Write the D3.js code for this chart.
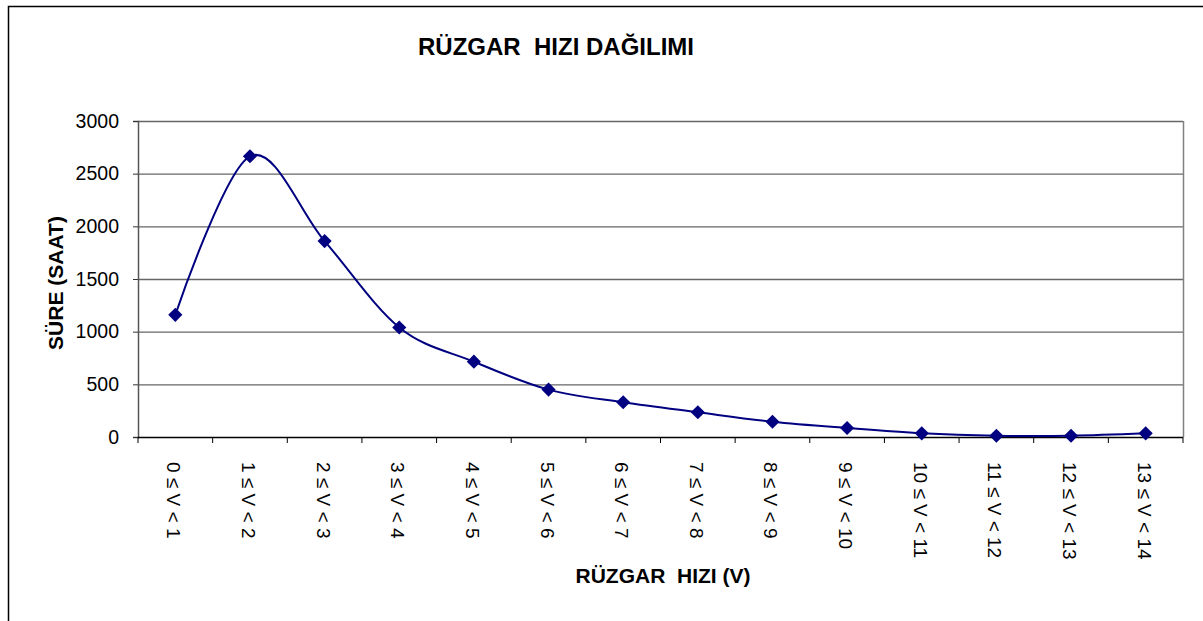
<!DOCTYPE html>
<html>
<head>
<meta charset="utf-8">
<script src="https://cdn.jsdelivr.net/npm/d3@7"></script>
<style>
  body { margin: 0; background: #fff; }
  text { font-family: Arial, "Liberation Sans", sans-serif; }
</style>
</head>
<body>
<div id="chart"></div>
<script>
// wind speed classes and hours
const categories = ["0 ≤ V < 1", "1 ≤ V < 2", "2 ≤ V < 3", "3 ≤ V < 4", "4 ≤ V < 5",
  "5 ≤ V < 6", "6 ≤ V < 7", "7 ≤ V < 8", "8 ≤ V < 9", "9 ≤ V < 10",
  "10 ≤ V < 11", "11 ≤ V < 12", "12 ≤ V < 13", "13 ≤ V < 14"];
const hours = [1160, 2665, 1860, 1040, 715, 450, 330, 235, 145, 85, 35, 12, 12, 35];
const yTicks = [0, 500, 1000, 1500, 2000, 2500, 3000];

const W = 1203, H = 621;
const margin = {top: 121, right: 20, bottom: 184, left: 138};
const width = W - margin.left - margin.right,
      height = H - margin.top - margin.bottom;

const svg = d3.select("#chart").append("svg")
  .attr("width", W).attr("height", H);

// outer frame
svg.append("rect")
  .attr("x", 8.5).attr("y", 6.5)
  .attr("width", W + 10).attr("height", H + 10)
  .attr("fill", "none").attr("stroke", "#000").attr("stroke-width", 1.5);

const g = svg.append("g")
  .attr("transform", "translate(" + margin.left + "," + margin.top + ")");

const x = d3.scaleBand().domain(categories).range([0, width]);
const y = d3.scaleLinear().domain([0, 3000]).range([height, 0]);

// gridlines
g.append("g")
  .selectAll("line")
  .data(yTicks.filter(d => d > 0))
  .enter().append("line")
  .attr("x1", 0).attr("x2", width)
  .attr("y1", d => y(d) + 0.5).attr("y2", d => y(d) + 0.5)
  .attr("stroke", "#666").attr("stroke-width", 1.3);

// plot border right
g.append("line")
  .attr("x1", width + 0.5).attr("x2", width + 0.5)
  .attr("y1", 0).attr("y2", height)
  .attr("stroke", "#808080").attr("stroke-width", 1.5);

// y axis
const yAxis = g.append("g")
  .call(d3.axisLeft(y).tickValues(yTicks).tickFormat(d3.format("d")).tickSize(5).tickPadding(14));
yAxis.select(".domain").attr("stroke", "#555").attr("stroke-width", 1.5);
yAxis.selectAll(".tick line").attr("stroke", "#333");
yAxis.selectAll("text").attr("font-size", 19.5).attr("fill", "#000")
  .attr("font-family", "Arial, 'Liberation Sans', sans-serif");

// x axis with ticks on category boundaries
const xAxis = g.append("g").attr("transform", "translate(0," + height + ")");
xAxis.append("line")
  .attr("x1", 0).attr("x2", width).attr("y1", 0.5).attr("y2", 0.5)
  .attr("stroke", "#000").attr("stroke-width", 1.5);
const bounds = categories.map(c => x(c)).concat([width]);
xAxis.selectAll(".bt").data(bounds).enter().append("line")
  .attr("x1", d => d).attr("x2", d => d)
  .attr("y1", 0).attr("y2", 6)
  .attr("stroke", "#000");
xAxis.selectAll(".lbl").data(categories).enter().append("text")
  .attr("transform", d => "translate(" + (x(d) + x.bandwidth() / 2 - 8) + ",25) rotate(90)")
  .attr("font-size", 19)
  .attr("text-anchor", "start")
  .attr("fill", "#000")
  .text(d => d);

// smoothed line
const line = d3.line()
  .x((d, i) => x(categories[i]) + x.bandwidth() / 2)
  .y(d => y(d))
  .curve(d3.curveCatmullRom.alpha(0));
g.append("path")
  .datum(hours)
  .attr("d", line)
  .attr("fill", "none")
  .attr("stroke", "#000080")
  .attr("stroke-width", 2);

// diamond markers
g.selectAll(".pt").data(hours).enter().append("path")
  .attr("d", d3.symbol().type(d3.symbolSquare).size(100))
  .attr("transform", (d, i) => "translate(" + (x(categories[i]) + x.bandwidth() / 2) + "," + y(d) + ") rotate(45)")
  .attr("fill", "#000080");

// titles
svg.append("text")
  .attr("x", 556).attr("y", 55)
  .attr("text-anchor", "middle")
  .attr("font-size", 24).attr("font-weight", "bold")
  .attr("xml:space", "preserve")
  .text("RÜZGAR  HIZI DAĞILIMI");

svg.append("text")
  .attr("x", 663).attr("y", 583)
  .attr("text-anchor", "middle")
  .attr("font-size", 21).attr("font-weight", "bold")
  .attr("xml:space", "preserve")
  .text("RÜZGAR  HIZI (V)");

svg.append("text")
  .attr("transform", "translate(63,283) rotate(-90)")
  .attr("text-anchor", "middle")
  .attr("font-size", 21).attr("font-weight", "bold")
  .text("SÜRE (SAAT)");
</script>
</body>
</html>
